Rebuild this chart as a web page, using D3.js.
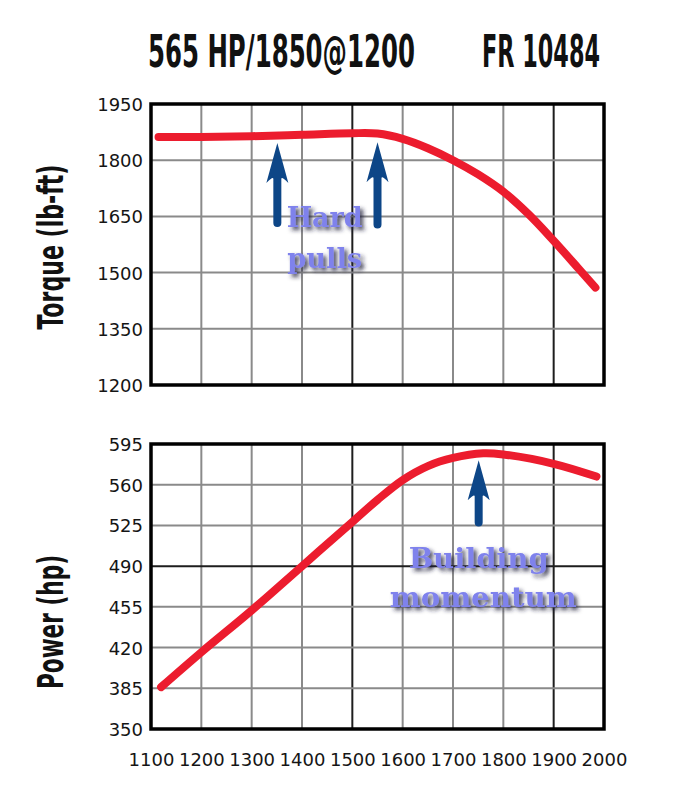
<!DOCTYPE html>
<html><head><meta charset="utf-8">
<script src="https://cdn.jsdelivr.net/npm/d3@7"></script>
<style>
html,body{margin:0;padding:0;background:#fff;}
svg{display:block;}
</style></head>
<body>
<svg id="chart" width="686" height="788"></svg>
<script>
// ---- data ----
const titleLeft = "565 HP/1850@1200";
const titleRight = "FR 10484";
const rpmTicks = [1100,1200,1300,1400,1500,1600,1700,1800,1900,2000];
const torqueTicks = [1200,1350,1500,1650,1800,1950];
const powerTicks = [350,385,420,455,490,525,560,595];

const torqueRpm   = [1115,1200,1300,1400,1500,1550,1600,1650,1700,1750,1800,1850,1900,1950,1983];
const torqueValue = [1862,1862,1864,1868,1872,1871,1857,1832,1800,1762,1716,1656,1585,1510,1460];

const powerRpm   = [1120,1200,1300,1400,1500,1550,1600,1650,1700,1760,1800,1900,1985];
const powerValue = [386, 416, 452, 490, 528, 547, 564, 576, 583, 587, 586, 578, 567];

// arrows: rpm, tail value, tip value
const torqueArrows = [{rpm:1351, from:1622, to:1846},{rpm:1550, from:1618, to:1848}];
const powerArrows  = [{rpm:1751, from:524, to:581}];

const torqueNotes = [{text:"Hard", rpm:1445, value:1622},{text:"pulls", rpm:1445, value:1512}];
const powerNotes  = [{text:"Building", rpm:1751, value:488},{text:"momentum", rpm:1760, value:455}];

// ---- styling ----
const noteWidth = {"Hard":76, "pulls":75, "Building":140, "momentum":187};
const darkX = [1500,1900];

// ---- drawing ----
const svg = d3.select("#chart");
const defs = svg.append("defs");
const f = defs.append("filter").attr("id","shadow").attr("x","-20%").attr("y","-30%").attr("width","150%").attr("height","170%");
f.append("feDropShadow").attr("dx",3).attr("dy",3).attr("stdDeviation",2.2).attr("flood-color","#1a1a3a").attr("flood-opacity",0.85);

const x = d3.scaleLinear().domain([1100,2000]).range([151,604]);
const yT = d3.scaleLinear().domain([1200,1950]).range([385,104]);
const yP = d3.scaleLinear().domain([350,595]).range([729,444]);

const condensed = "'Liberation Sans Narrow','DejaVu Sans Condensed',sans-serif";

// fit a bold condensed text to a width while keeping cap height (vertical stretch)
function fitText(sel, targetW, capH) {
  const base = 40;
  sel.attr("font-size", base);
  const w = sel.node().getComputedTextLength();
  const fs = base * targetW / w;
  const sy = capH / (0.72 * fs);
  sel.attr("font-size", fs);
  return sy;
}

// title
[[titleLeft,148,267],[titleRight,482,118]].forEach(([t,x0,w])=>{
  const g = svg.append("g");
  const tx = g.append("text").text(t)
    .attr("font-family",condensed).attr("font-weight","bold").attr("fill","#111");
  const sy = fitText(tx, w, 32);
  g.attr("transform",`translate(${x0},67) scale(1,${sy})`);
});

function panel(y, ticks, darkY, label, labelLen, labelCy, xs, ys, arrows, notes, showX) {
  const g = svg.append("g");
  const [x0,x1] = x.range();
  const [yb,yt] = y.range();
  // grid
  g.selectAll(".vg").data(rpmTicks.slice(1,-1)).join("line")
    .attr("x1",d=>x(d)).attr("x2",d=>x(d)).attr("y1",yt).attr("y2",yb)
    .attr("stroke",d=>darkX.includes(d)?"#1e1e1e":"#8a8a8a").attr("stroke-width",2);
  g.selectAll(".hg").data(ticks.slice(1,-1)).join("line")
    .attr("x1",x0).attr("x2",x1).attr("y1",d=>y(d)).attr("y2",d=>y(d))
    .attr("stroke",d=>darkY.includes(d)?"#1e1e1e":"#8a8a8a").attr("stroke-width",2);
  // y tick labels via axis
  const ax = g.append("g").attr("transform",`translate(${x0},0)`)
    .call(d3.axisLeft(y).tickValues(ticks).tickSize(0).tickPadding(8).tickFormat(d3.format("d")));
  ax.select(".domain").remove();
  ax.selectAll("text").attr("font-family","'DejaVu Sans',sans-serif").attr("font-size",18).attr("fill","#151515").attr("dy","0.36em");
  // line
  const line = d3.line().x(d=>x(d[0])).y(d=>y(d[1])).curve(d3.curveCatmullRom.alpha(0.5));
  g.append("path").datum(d3.zip(xs,ys)).attr("d",line)
    .attr("fill","none").attr("stroke","#ec1c2e").attr("stroke-width",8).attr("stroke-linecap","round").attr("stroke-linejoin","round");
  // border
  g.append("rect").attr("x",x0).attr("y",yt).attr("width",x1-x0).attr("height",yb-yt)
    .attr("fill","none").attr("stroke","#000").attr("stroke-width",3.5);
  // arrows
  arrows.forEach(a=>{
    const cx = x(a.rpm), tip = y(a.to), tail = y(a.from);
    const headH = 40, headW = 11, shaft = 4;
    const p = d3.path();
    p.moveTo(cx, tip);
    p.lineTo(cx+headW, tip+headH);
    p.quadraticCurveTo(cx+shaft, tip+headH-7, cx+shaft, tip+headH-4);
    p.lineTo(cx+shaft, tail-shaft);
    p.quadraticCurveTo(cx+shaft, tail, cx, tail);
    p.quadraticCurveTo(cx-shaft, tail, cx-shaft, tail-shaft);
    p.lineTo(cx-shaft, tip+headH-4);
    p.quadraticCurveTo(cx-shaft, tip+headH-7, cx-headW, tip+headH);
    p.closePath();
    g.append("path").attr("d",p.toString()).attr("fill","#0d4687");
  });
  // notes
  notes.forEach(n=>{
    g.append("text").attr("x",x(n.rpm)).attr("y",y(n.value)).text(n.text)
      .attr("text-anchor","middle")
      .attr("font-family","'DejaVu Serif',serif").attr("font-weight","bold").attr("font-size",27)
      .attr("fill","#7f82ec").attr("filter","url(#shadow)")
      .attr("textLength",noteWidth[n.text]).attr("lengthAdjust","spacingAndGlyphs");
  });
  // y label
  const lg = g.append("g");
  const lt = lg.append("text").text(label).attr("text-anchor","middle")
    .attr("font-family",condensed).attr("font-weight","bold").attr("fill","#111");
  const sy = fitText(lt, labelLen, 26);
  lg.attr("transform",`translate(63,${labelCy}) rotate(-90) scale(1,${sy})`);
  if (showX) {
    const xa = g.append("g").attr("transform",`translate(0,${yb})`)
      .call(d3.axisBottom(x).tickValues(rpmTicks).tickSize(0).tickPadding(24).tickFormat(d3.format("d")));
    xa.select(".domain").remove();
    xa.selectAll("text").attr("font-family","'DejaVu Sans',sans-serif").attr("font-size",18).attr("fill","#151515");
  }
}

panel(yT, torqueTicks, [], "Torque (lb-ft)", 165, 247, torqueRpm, torqueValue, torqueArrows, torqueNotes, false);
panel(yP, powerTicks, [490], "Power (hp)", 134, 622, powerRpm, powerValue, powerArrows, powerNotes, true);
</script>
</body></html>
